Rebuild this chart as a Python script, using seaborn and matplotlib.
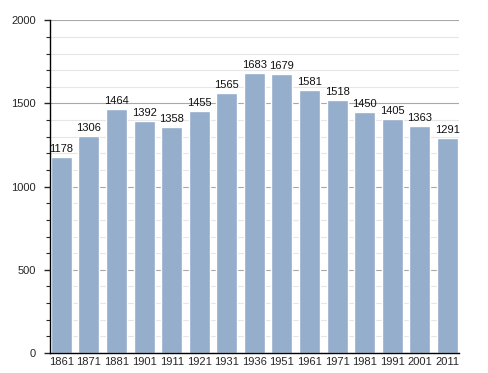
import matplotlib
matplotlib.use("Agg")
import matplotlib.pyplot as plt
import pandas as pd
import seaborn as sns
from matplotlib.ticker import MultipleLocator

annees = ["1861", "1871", "1881", "1901", "1911", "1921", "1931", "1936",
          "1951", "1961", "1971", "1981", "1991", "2001", "2011"]
habitants = [1178, 1306, 1464, 1392, 1358, 1455, 1565, 1683,
             1679, 1581, 1518, 1450, 1405, 1363, 1291]

df = pd.DataFrame({"annee": annees, "habitants": habitants})

sns.set_style("white")
plt.rcParams["font.family"] = ["Liberation Sans", "DejaVu Sans"]

fig = plt.figure(figsize=(4.88, 3.73), dpi=100)
ax = fig.add_axes([0.1025, 0.0536, 0.838, 0.892])
ax.set_axisbelow(True)

sns.barplot(data=df, x="annee", y="habitants", color="#94aecb",
            saturation=1, width=0.76, ax=ax)

ax.set_ylim(0, 2000)
ax.set_xlim(-0.41, len(annees) - 0.58)
ax.yaxis.set_major_locator(MultipleLocator(500))
ax.yaxis.set_minor_locator(MultipleLocator(100))
ax.grid(axis="y", which="major", color="#a8a8a8", linewidth=0.8)
ax.grid(axis="y", which="minor", color="#e6e6e6", linewidth=0.8)

for i, v in enumerate(habitants):
    ax.text(i, v + 18, str(v), ha="center", va="bottom", fontsize=8,
            color="#111111")

for s in ["top", "right"]:
    ax.spines[s].set_visible(False)
for s in ["left", "bottom"]:
    ax.spines[s].set_color("#000000")
    ax.spines[s].set_linewidth(1.0)

ax.tick_params(axis="x", length=0, labelsize=8, pad=3)
ax.tick_params(axis="y", which="major", length=4, width=1, labelsize=8,
               left=True, pad=6)
ax.tick_params(axis="y", which="minor", length=3, width=0.8, left=True)
ax.set_xlabel("")
ax.set_ylabel("")

fig.savefig("out.png", dpi=100)
